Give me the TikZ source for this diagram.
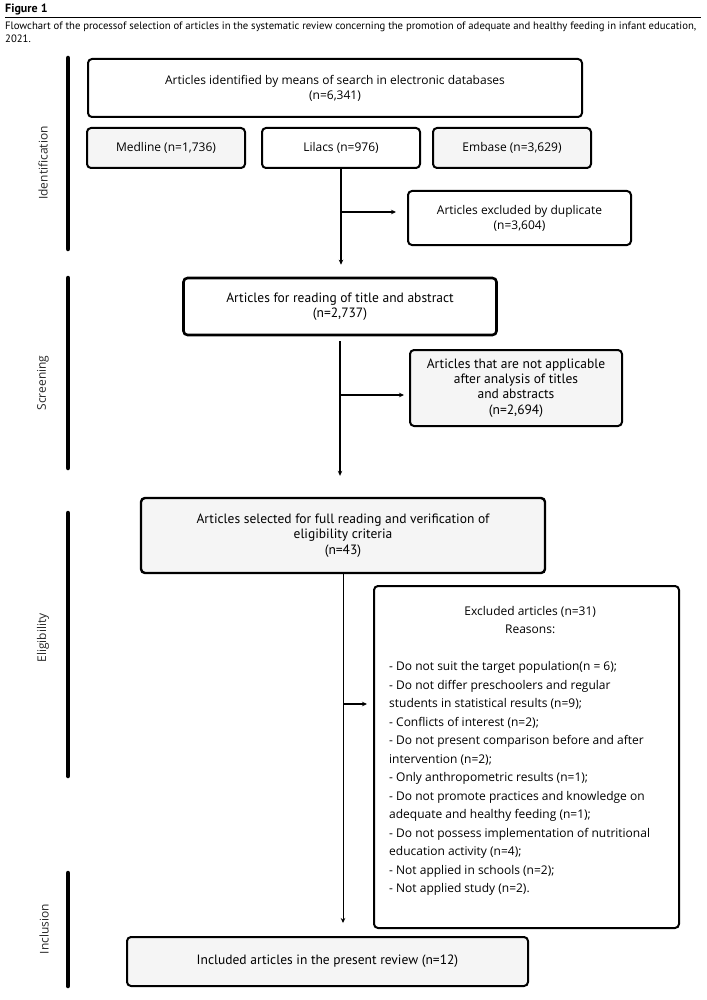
\documentclass[tikz,border=0pt]{standalone}
\usepackage{fontspec}
\setmainfont{Open Sans}
\newfontfamily\capfont{PT Sans}
\newfontfamily\narrowfont{PT Sans}
\usetikzlibrary{arrows.meta,calc}
\begin{document}
\begin{tikzpicture}[x=1pt,y=-1pt,
  wide/.style={font=\fontsize{12}{15}\selectfont},
  narrow/.style={font=\narrowfont\fontsize{13.5}{15.2}\selectfont},
  box/.style={draw, line width=2pt, rounded corners=4pt, align=center, inner sep=0pt, fill=white},
  gbox/.style={box, fill=black!4},
  arr/.style={line width=1.2pt, -{Stealth[length=5pt,width=4.5pt]}},
  phase/.style={line width=4.5pt, line cap=round},
  plabel/.style={rotate=90, font=\fontsize{12}{14}\selectfont, text=black!85},
]
\useasboundingbox (0,0) rectangle (706,1000);

% caption
\node[anchor=base west, inner sep=0, font=\capfont\bfseries\fontsize{12}{14}\selectfont] (fig) at (5,13) {Figure 1};
\draw[line width=1pt] (5,18) -- (701,18);
\node[anchor=north west, inner sep=0, align=left, font=\capfont\fontsize{10.7}{13}\selectfont] (cap) at (5,22)
 {Flowchart of the processof selection of articles in the systematic review concerning the promotion of adequate and healthy feeding in infant education,\\2021.};

% phase bars
\draw[phase] (68,58) -- (68,249);
\draw[phase] (68,278) -- (68,468);
\draw[phase] (68,513) -- (68,776);
\draw[phase] (68,873) -- (68,986);
\node[plabel] (pid) at (43,163) {Identification};
\node[plabel] (psc) at (43,383) {Screening};
\node[plabel] (pel) at (43,638) {Eligibility};
\node[plabel] (pin) at (44,929) {Inclusion};

% boxes
\node[box, wide, minimum width=494, minimum height=58] (src) at (335,88)
  {Articles identified by means of search in electronic databases\\(n=6,341)};
\node[gbox, wide, minimum width=158, minimum height=40] (med) at (166,148) {Medline (n=1,736)};
\node[box, wide, minimum width=158, minimum height=40] (lil) at (341,148) {Lilacs (n=976)};
\node[gbox, wide, minimum width=158, minimum height=40] (emb) at (512,148) {Embase (n=3,629)};
\node[box, wide, minimum width=223, minimum height=54] (dup) at (519.5,218)
  {Articles excluded by duplicate\\(n=3,604)};
\node[box, narrow, line width=2.6pt, minimum width=313, minimum height=57] (scr) at (340,306.5)
  {Articles for reading of title and abstract\\(n=2,737)};
\node[gbox, narrow, minimum width=212, minimum height=76] (na) at (516,388)
  {Articles that are not applicable\\after analysis of titles\\and abstracts\\(n=2,694)};
\node[gbox, narrow, line width=2.4pt, minimum width=404, minimum height=75] (elig) at (343,535.5)
  {Articles selected for full reading and verification of\\eligibility criteria\\(n=43)};
\node[box, minimum width=305, minimum height=342] (exc) at (526.5,757) {};
\node[anchor=north west, align=left, inner sep=0, font=\fontsize{12}{18.5}\selectfont] (exct) at (389,606)
 {\makebox[282pt][c]{Excluded articles (n=31)}\\
  \makebox[282pt][c]{Reasons:}\\[18.5pt]
  - Do not suit the target population(n = 6);\\
  - Do not differ preschoolers and regular\\
  students in statistical results (n=9);\\
  - Conflicts of interest (n=2);\\
  - Do not present comparison before and after\\
  intervention (n=2);\\
  - Only anthropometric results (n=1);\\
  - Do not promote practices and knowledge on\\
  adequate and healthy feeding (n=1);\\
  - Do not possess implementation of nutritional\\
  education activity (n=4);\\
  - Not applied in schools (n=2);\\
  - Not applied study (n=2).};
\node[gbox, narrow, minimum width=401, minimum height=49] (inc) at (327.5,961.5)
  {Included articles in the present review (n=12)};

% connectors
\draw[arr, shorten >=12pt] (lil.south) -- (lil.south |- scr.north);
\coordinate (b1) at (341,212);
\draw[arr, shorten >=11pt] (b1) -- (b1 -| dup.west);
\draw[arr, shorten <=5pt, shorten >=21pt] (scr.south) -- (scr.south |- elig.north);
\coordinate (b2) at (340,395);
\draw[arr, shorten >=5pt] (b2) -- (b2 -| na.west);
\draw[line width=0.9pt, -{Stealth[length=5pt,width=4.5pt]}, shorten >=13pt] (elig.south) -- (elig.south |- inc.north);
\coordinate (b3) at (343,704);
\draw[arr, shorten >=6pt] (b3) -- (b3 -| exc.west);
\end{tikzpicture}
\end{document}
